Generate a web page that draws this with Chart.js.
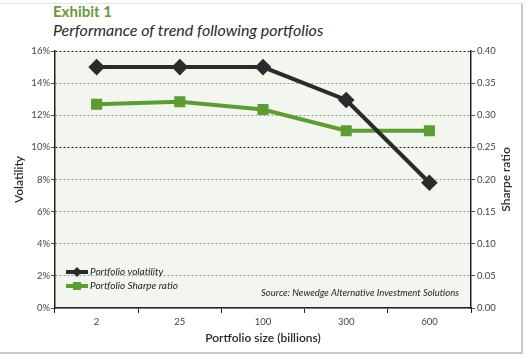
<!DOCTYPE html>
<html>
<head>
<meta charset="utf-8">
<script src="https://cdn.jsdelivr.net/npm/chart.js@4.4.0/dist/chart.umd.min.js"></script>
<style>
  html, body { margin:0; padding:0; background:#fff; }
  body { width:528px; height:359px; position:relative; overflow:hidden; font-family:Lato, sans-serif; }
  .frame { position:absolute; left:0; top:3px; width:521px; height:348px; border-right:2px solid #c8c8c8; border-bottom:2px solid #c8c8c8; border-top:1px solid #e6e6e6; }
  .exhibit { position:absolute; left:53px; top:2px; font-size:15px; font-weight:bold; color:#6a9a3c; }
  .title { position:absolute; left:53px; top:20px; font-size:16px; font-style:italic; color:#2a2a2a; }
  #chart { position:absolute; left:0; top:0; }
</style>
</head>
<body>
<div class="frame"></div>
<div class="exhibit">Exhibit 1</div>
<div class="title">Performance of trend following portfolios</div>
<canvas id="chart" width="528" height="359"></canvas>
<script>
const sizes      = ['2', '25', '100', '300', '600'];
const volatility = [15.0, 15.0, 15.0, 12.95, 7.8];      // % (left axis)
const sharpe     = [0.317, 0.321, 0.309, 0.276, 0.276]; // ratio (right axis)

const BLACK = '#2b2b2b';
const GREEN = '#5f9b35';
const FONT  = 'Lato, sans-serif';

const plotBg = {
  id: 'plotBg',
  beforeDraw(chart) {
    const { ctx, chartArea: a } = chart;
    ctx.save();
    ctx.fillStyle = '#f2f6ef';
    ctx.fillRect(a.left, a.top, a.right - a.left, a.bottom - a.top);
    ctx.restore();
  }
};

// legend, source note and axis titles
const notes = {
  id: 'notes',
  afterDatasetsDraw(chart) {
    const { ctx, chartArea: a } = chart;
    ctx.save();
    const items = chart.data.datasets.map(ds => ({ label: ds.label, color: ds.borderColor, shape: ds.pointStyle }));
    items.forEach((it, i) => {
      const y = a.bottom - 36 + i * 14;
      const x0 = a.left + 11, x1 = a.left + 33;
      ctx.strokeStyle = it.color; ctx.lineWidth = 4;
      ctx.beginPath(); ctx.moveTo(x0, y); ctx.lineTo(x1, y); ctx.stroke();
      ctx.fillStyle = it.color;
      const cx = (x0 + x1) / 2;
      if (it.shape === 'rectRot') {
        ctx.beginPath(); ctx.moveTo(cx, y - 5); ctx.lineTo(cx + 5, y); ctx.lineTo(cx, y + 5); ctx.lineTo(cx - 5, y); ctx.closePath(); ctx.fill();
      } else {
        ctx.fillRect(cx - 4, y - 4, 8, 8);
      }
      ctx.fillStyle = '#222';
      ctx.font = 'italic 10px ' + FONT;
      ctx.textBaseline = 'middle'; ctx.textAlign = 'left';
      ctx.fillText(it.label, x1 + 2, y);
    });
    ctx.font = 'italic 9.5px ' + FONT;
    ctx.textAlign = 'right'; ctx.textBaseline = 'middle';
    ctx.fillText('Source: Newedge Alternative Investment Solutions', a.right - 12, a.bottom - 15);

    // axis titles
    ctx.fillStyle = '#2a2a2a';
    ctx.font = '600 12px ' + FONT;
    ctx.textAlign = 'center'; ctx.textBaseline = 'middle';
    ctx.fillText('Portfolio size (billions)', (a.left + a.right) / 2, 338);
    const midY = (a.top + a.bottom) / 2;
    ctx.save(); ctx.translate(19, midY); ctx.rotate(-Math.PI / 2);
    ctx.fillText('Volatility', 0, 0); ctx.restore();
    ctx.save(); ctx.translate(506, midY); ctx.rotate(-Math.PI / 2);
    ctx.fillText('Sharpe ratio', 0, 0); ctx.restore();
    ctx.restore();
  }
};

const gridColor = c => (c.tick && (c.tick.value === 10 || c.tick.value === 16)) ? '#222' : '#9a9a9a';

new Chart(document.getElementById('chart'), {
  type: 'line',
  data: {
    labels: sizes,
    datasets: [
      { label: 'Portfolio volatility', data: volatility, yAxisID: 'y',
        borderColor: BLACK, backgroundColor: BLACK, borderWidth: 4,
        pointStyle: 'rectRot', pointRadius: 5.5, pointHoverRadius: 5.5, tension: 0 },
      { label: 'Portfolio Sharpe ratio', data: sharpe, yAxisID: 'y1',
        borderColor: GREEN, backgroundColor: GREEN, borderWidth: 4,
        pointStyle: 'rect', pointRadius: 5, pointHoverRadius: 5, tension: 0 }
    ]
  },
  options: {
    responsive: false, animation: false,
    layout: { padding: { top: 51, left: 0, right: 0, bottom: 0 } },
    plugins: { legend: { display: false }, tooltip: { enabled: false } },
    scales: {
      x: {
        offset: true,
        grid: { offset: true, drawOnChartArea: false, tickLength: 5, color: '#222' },
        border: { color: '#222', width: 1.5 },
        ticks: { color: '#444', font: { family: FONT, size: 9.5 }, padding: 3 },
        afterFit: s => { s.height = 51; }
      },
      y: {
        position: 'left', min: 0, max: 16,
        ticks: { stepSize: 2, callback: v => v + '%', color: '#444', font: { family: FONT, size: 9.5 }, padding: 1 },
        grid: { color: gridColor, tickColor: '#555', tickLength: 4, lineWidth: 1 },
        border: { color: '#222', width: 1.5, dash: [2, 2] },
        afterFit: s => { s.width = 55; }
      },
      y1: {
        position: 'right', min: 0, max: 0.4,
        ticks: { stepSize: 0.05, callback: v => v.toFixed(2), color: '#444', font: { family: FONT, size: 9.5 }, padding: 2 },
        grid: { drawOnChartArea: false, tickColor: '#555', tickLength: 4 },
        border: { color: '#222', width: 1.5 },
        afterFit: s => { s.width = 57; }
      }
    }
  },
  plugins: [plotBg, notes]
});
</script>
</body>
</html>
